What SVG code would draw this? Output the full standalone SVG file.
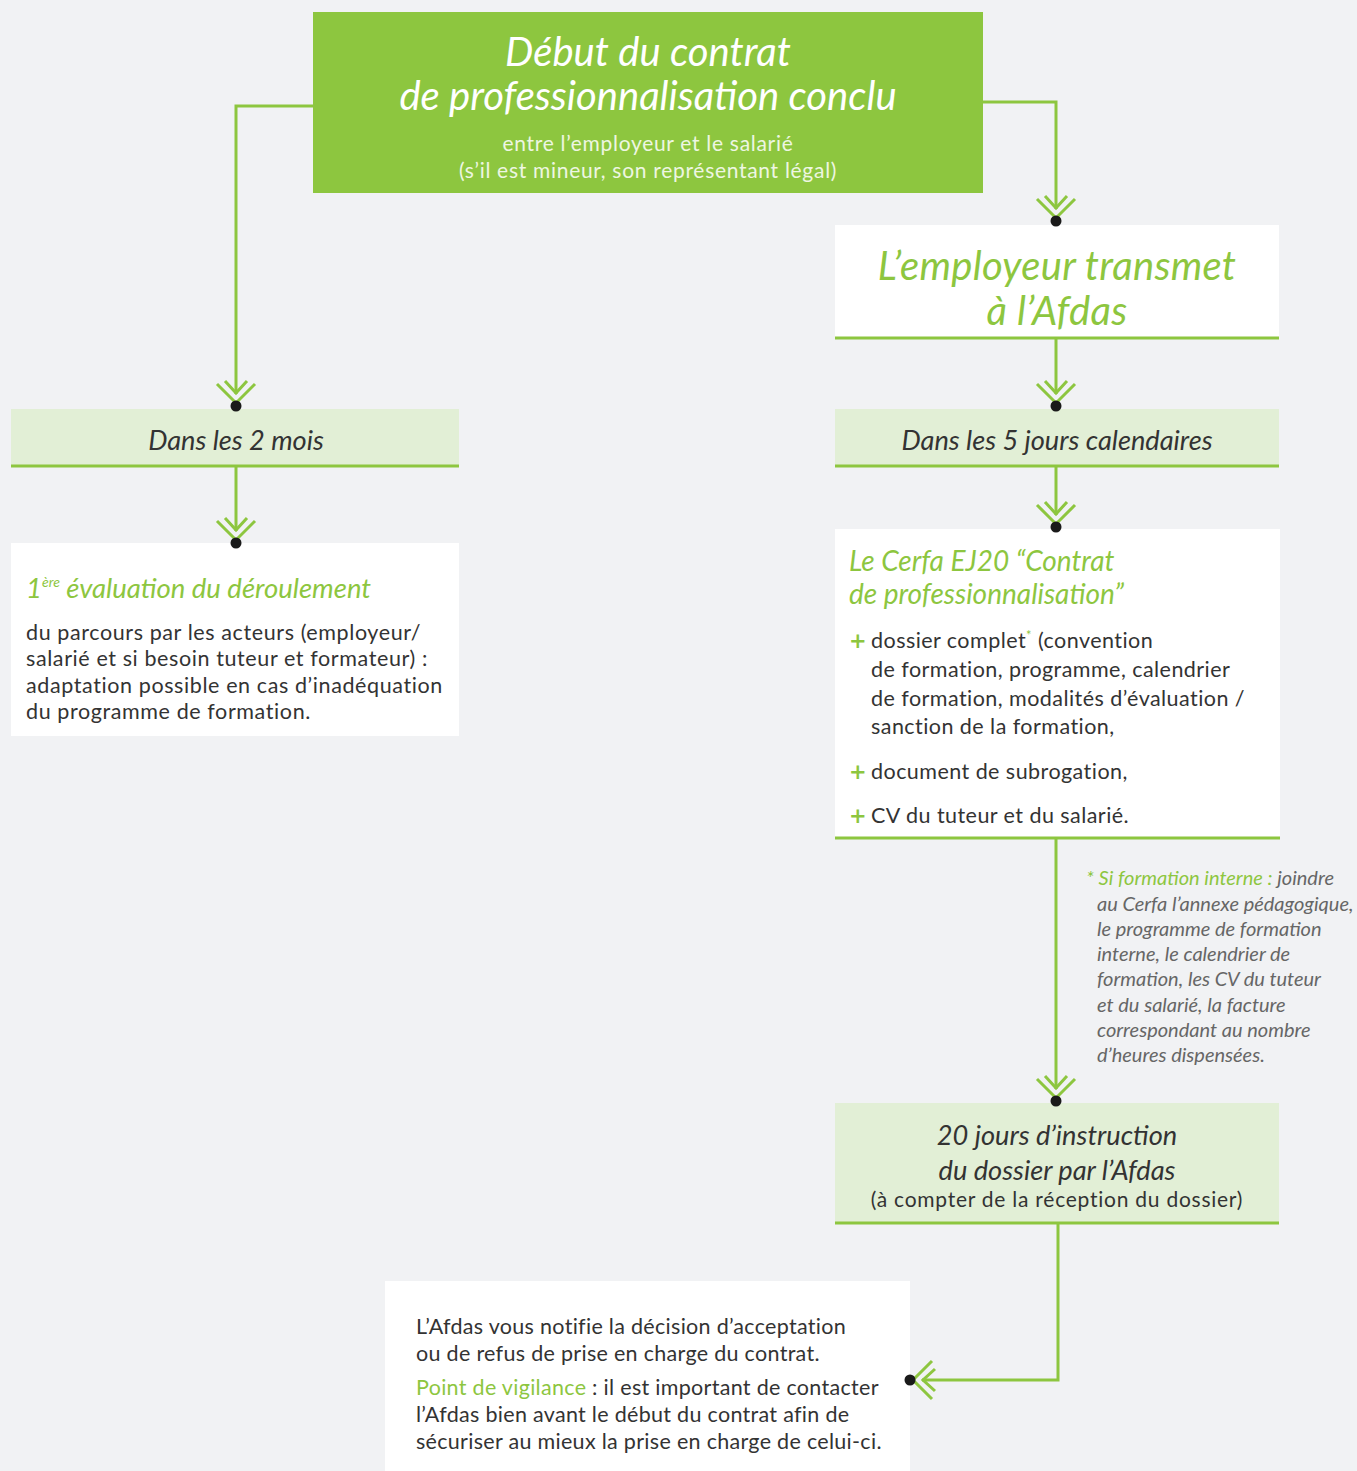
<svg xmlns="http://www.w3.org/2000/svg" width="1357" height="1471" viewBox="0 0 1357 1471">
<style>
.bg{fill:#f1f2f4}
.lg{fill:#e2efd6}
.wh{fill:#ffffff}
.gl{stroke:#8dc63f;stroke-width:3;fill:none}
.t{font-family:Lato,"Open Sans",sans-serif}
.it{font-style:italic}
.dk{fill:#333333}
.gr{fill:#8dc63f}
.gy{fill:#666666}
.plus{font-family:"DejaVu Sans",sans-serif;font-weight:bold;fill:#8dc63f;font-size:21px}
</style>
<defs>
<g id="arr">
<polyline points="-19,-22 0,-3 19,-22" fill="none" stroke="#8dc63f" stroke-width="3"/>
<polyline points="-11,-25 0,-13 11,-25" fill="none" stroke="#8dc63f" stroke-width="3"/>
<circle cx="0" cy="0" r="5.5" fill="#1a1a1a"/>
</g>
</defs>
<rect class="bg" x="0" y="0" width="1357" height="1471"/>

<g id="n-debut">
<rect x="313" y="12" width="670" height="181" fill="#8dc63f"/>
<text class="t it" x="648" y="66" font-size="40" fill="#ffffff" text-anchor="middle">Début du contrat</text>
<text class="t it" x="648" y="110" font-size="40" fill="#ffffff" text-anchor="middle">de professionnalisation conclu</text>
<text class="t" x="648" y="151" font-size="21" letter-spacing="0.7" fill="#eef6e2" text-anchor="middle">entre l’employeur et le salarié</text>
<text class="t" x="648" y="178" font-size="21" letter-spacing="0.7" fill="#eef6e2" text-anchor="middle">(s’il est mineur, son représentant légal)</text>
</g>

<g id="n-transmet">
<rect class="wh" x="835" y="225" width="444" height="113"/>
<line class="gl" x1="835" y1="338" x2="1279" y2="338"/>
<text class="t it gr" x="1057" y="280" font-size="40" letter-spacing="0.3" text-anchor="middle">L’employeur transmet</text>
<text class="t it gr" x="1057" y="325" font-size="40" letter-spacing="0.3" text-anchor="middle">à l’Afdas</text>
</g>

<g id="n-2mois">
<rect class="lg" x="11" y="409" width="448" height="57"/>
<line class="gl" x1="11" y1="466" x2="459" y2="466"/>
<text class="t it dk" x="236" y="450" font-size="27.2" text-anchor="middle">Dans les 2 mois</text>
</g>

<g id="n-5jours">
<rect class="lg" x="835" y="409" width="444" height="57"/>
<line class="gl" x1="835" y1="466" x2="1279" y2="466"/>
<text class="t it dk" x="1057" y="450" font-size="27.2" text-anchor="middle">Dans les 5 jours calendaires</text>
</g>

<g id="n-evaluation">
<rect class="wh" x="11" y="543" width="448" height="193"/>
<text class="t it gr" x="26" y="598" font-size="27.5">1<tspan font-size="14" dy="-11">ère</tspan><tspan dy="11"> évaluation du déroulement</tspan></text>
<text class="t dk" font-size="21.5" letter-spacing="0.6">
<tspan x="26" y="640">du parcours par les acteurs (employeur/</tspan>
<tspan x="26" y="666">salarié et si besoin tuteur et formateur) :</tspan>
<tspan x="26" y="693">adaptation possible en cas d’inadéquation</tspan>
<tspan x="26" y="719">du programme de formation.</tspan>
</text>
</g>

<g id="n-cerfa">
<rect class="wh" x="835" y="529" width="445" height="309"/>
<line class="gl" x1="835" y1="838" x2="1280" y2="838"/>
<text class="t it gr" x="849" y="571" font-size="28">Le Cerfa EJ20 “Contrat</text>
<text class="t it gr" x="849" y="604" font-size="28">de professionnalisation”</text>
<text class="plus" x="849" y="648">+</text>
<text class="plus" x="849" y="779">+</text>
<text class="plus" x="849" y="823">+</text>
<text class="t dk" font-size="21.5" letter-spacing="0.45">
<tspan x="871" y="648">dossier complet<tspan class="gr" font-size="13" dy="-8">*</tspan><tspan dy="8"> (convention</tspan></tspan>
<tspan x="871" y="677">de formation, programme, calendrier</tspan>
<tspan x="871" y="706">de formation, modalités d’évaluation /</tspan>
<tspan x="871" y="734">sanction de la formation,</tspan>
<tspan x="871" y="779">document de subrogation,</tspan>
<tspan x="871" y="823">CV du tuteur et du salarié.</tspan>
</text>
</g>

<g id="note">
<text class="t it gy" font-size="20">
<tspan x="1086" y="885"><tspan class="gr">* Si formation interne :</tspan> joindre</tspan>
<tspan x="1097" y="911">au Cerfa l’annexe pédagogique,</tspan>
<tspan x="1097" y="936">le programme de formation</tspan>
<tspan x="1097" y="961">interne, le calendrier de</tspan>
<tspan x="1097" y="986">formation, les CV du tuteur</tspan>
<tspan x="1097" y="1012">et du salarié, la facture</tspan>
<tspan x="1097" y="1037">correspondant au nombre</tspan>
<tspan x="1097" y="1062">d’heures dispensées.</tspan>
</text>
</g>

<g id="n-20jours">
<rect class="lg" x="835" y="1103" width="444" height="120"/>
<line class="gl" x1="835" y1="1223" x2="1279" y2="1223"/>
<text class="t it dk" x="1057" y="1145" font-size="27.2" text-anchor="middle">20 jours d’instruction</text>
<text class="t it dk" x="1057" y="1180" font-size="27.2" text-anchor="middle">du dossier par l’Afdas</text>
<text class="t dk" x="1057" y="1207" font-size="21" letter-spacing="0.75" text-anchor="middle">(à compter de la réception du dossier)</text>
</g>

<g id="n-decision">
<rect class="wh" x="385" y="1281" width="525" height="190"/>
<text class="t dk" font-size="21.5" letter-spacing="0.3">
<tspan x="416" y="1334">L’Afdas vous notifie la décision d’acceptation</tspan>
<tspan x="416" y="1361">ou de refus de prise en charge du contrat.</tspan>
<tspan x="416" y="1395"><tspan class="gr">Point de vigilance</tspan> : il est important de contacter</tspan>
<tspan x="416" y="1422">l’Afdas bien avant le début du contrat afin de</tspan>
<tspan x="416" y="1449">sécuriser au mieux la prise en charge de celui-ci.</tspan>
</text>
</g>

<g id="connectors">
<polyline class="gl" points="313,106 236,106 236,394"/>
<use href="#arr" x="236" y="406"/>
<polyline class="gl" points="983,102 1056,102 1056,209"/>
<use href="#arr" x="1056" y="221"/>
<line class="gl" x1="1056" y1="338" x2="1056" y2="394"/>
<use href="#arr" x="1056" y="406"/>
<line class="gl" x1="236" y1="466" x2="236" y2="531"/>
<use href="#arr" x="236" y="543"/>
<line class="gl" x1="1056" y1="466" x2="1056" y2="515"/>
<use href="#arr" x="1056" y="527"/>
<line class="gl" x1="1056" y1="838" x2="1056" y2="1089"/>
<use href="#arr" x="1056" y="1101"/>
<polyline class="gl" points="1058,1223 1058,1380 922,1380"/>
<use href="#arr" transform="translate(910,1380) rotate(90)"/>
</g>
</svg>
